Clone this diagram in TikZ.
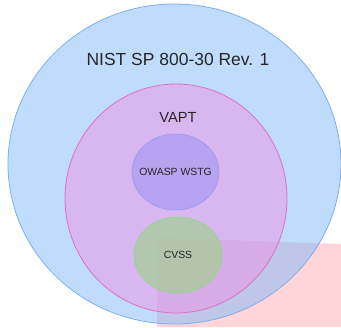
\documentclass[tikz,border=0pt]{standalone}
\usepackage{fontspec}
\setmainfont{Liberation Sans}
\usetikzlibrary{shapes.geometric}

\definecolor{nistblue}{HTML}{7FB9FB}
\definecolor{nistline}{HTML}{7EAEF0}
\definecolor{vaptpink}{HTML}{F194E3}
\definecolor{vaptline}{HTML}{E070C8}
\definecolor{owaspviolet}{HTML}{9890F0}
\definecolor{owaspline}{HTML}{9D9CF0}
\definecolor{cvssgreen}{HTML}{A0D18C}
\definecolor{cvssline}{HTML}{8FD88A}
\definecolor{scopepink}{HTML}{FFD5DA}

\begin{document}
\begin{tikzpicture}[
    x=0.75pt, y=-0.75pt,
    area/.style={ellipse, draw, line width=0.6pt, fill opacity=0.5, inner sep=0pt},
    tag/.style={text=black!85, inner sep=0pt},
    small/.style={tag, font=\fontsize{7.8}{9}\selectfont}
]
\useasboundingbox (0,0) rectangle (341,327);

% Pink region behind the circles
\fill[scopepink] (157,237.5) -- (341,244) -- (341,327) -- (157,327) -- cycle;

% NIST
\node[area, draw=nistline, fill=nistblue, minimum width=249.75pt, minimum height=240pt] (nist) at (174.5,164) {};

% VAPT
\node[area, draw=vaptline, fill=vaptpink, minimum width=166.5pt, minimum height=171.75pt] (vapt) at (176,198.5) {};

% OWASP WSTG and CVSS
\node[area, draw=owaspline, fill=owaspviolet, minimum width=65.25pt, minimum height=57pt] (owasp) at (175.5,172) {};
\node[area, draw=cvssline, fill=cvssgreen, fill opacity=0.64, minimum width=66pt, minimum height=57pt] (cvss) at (178,255) {};

% Labels
\node[tag, font=\fontsize{13.1}{16}\selectfont] (nisttag) at (178,59) {NIST SP 800-30 Rev. 1};
\node[tag, font=\fontsize{11}{14}\selectfont] (vapttag) at (178,117) {VAPT};
\node[small] (owasptag) at (owasp.center) {OWASP WSTG};
\node[small] (cvsstag) at (cvss.center) {CVSS};

\end{tikzpicture}
\end{document}
